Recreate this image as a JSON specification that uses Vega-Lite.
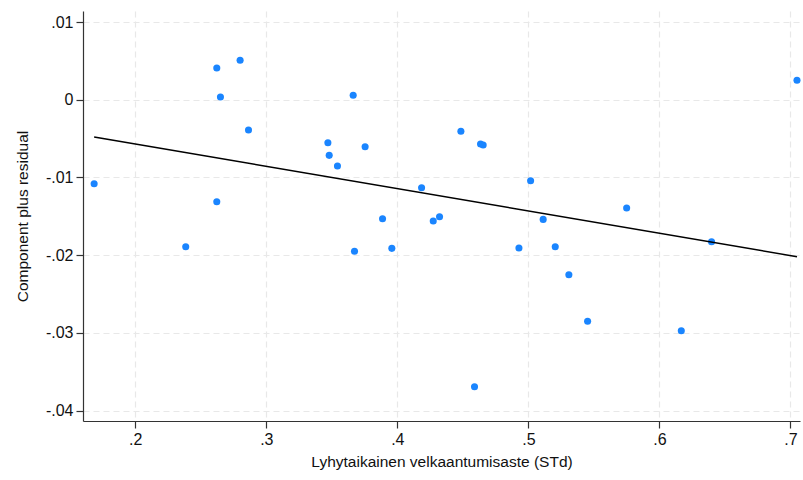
{
  "$schema": "https://vega.github.io/schema/vega-lite/v6.json",
  "width": 717,
  "height": 410,
  "autosize": {"type": "none"},
  "padding": {"left": 83, "top": 11, "right": 3, "bottom": 59},
  "background": "white",
  "config": {
    "view": {"stroke": null},
    "font": "Liberation Sans",
    "axis": {
      "labelFont": "Liberation Sans",
      "titleFont": "Liberation Sans",
      "labelFontSize": 16,
      "titleFontSize": 15.5,
      "titleFontWeight": "normal",
      "labelColor": "#111111",
      "titleColor": "#111111",
      "domainColor": "#333333",
      "tickColor": "#333333",
      "domainWidth": 1.2,
      "tickWidth": 1.2,
      "tickSize": 7,
      "labelPadding": 3,
      "gridColor": "#e8e8e8",
      "gridDash": [6, 4],
      "gridWidth": 1.2
    }
  },
  "layer": [
    {
      "data": {
        "values": [
          {"x": 0.1686, "y": -0.01081},
          {"x": 0.2622, "y": 0.00408},
          {"x": 0.2800, "y": 0.00507},
          {"x": 0.2650, "y": 0.00035},
          {"x": 0.2864, "y": -0.00390},
          {"x": 0.2622, "y": -0.01313},
          {"x": 0.3470, "y": -0.00553},
          {"x": 0.3480, "y": -0.00716},
          {"x": 0.3543, "y": -0.00853},
          {"x": 0.3663, "y": 0.00057},
          {"x": 0.3754, "y": -0.00605},
          {"x": 0.3887, "y": -0.01531},
          {"x": 0.4485, "y": -0.00405},
          {"x": 0.4635, "y": -0.00570},
          {"x": 0.4655, "y": -0.00583},
          {"x": 0.4185, "y": -0.01133},
          {"x": 0.4274, "y": -0.01561},
          {"x": 0.4322, "y": -0.01506},
          {"x": 0.5017, "y": -0.01042},
          {"x": 0.5113, "y": -0.01540},
          {"x": 0.5750, "y": -0.01394},
          {"x": 0.7050, "y": 0.00250},
          {"x": 0.6398, "y": -0.01827},
          {"x": 0.2385, "y": -0.01892},
          {"x": 0.3673, "y": -0.01951},
          {"x": 0.3958, "y": -0.01913},
          {"x": 0.4928, "y": -0.01909},
          {"x": 0.5205, "y": -0.01892},
          {"x": 0.5309, "y": -0.02252},
          {"x": 0.5452, "y": -0.02852},
          {"x": 0.6167, "y": -0.02973},
          {"x": 0.4589, "y": -0.03694}
        ]
      },
      "mark": {"type": "point", "filled": true, "opacity": 1, "size": 50, "color": "#1a85ff"},
      "encoding": {
        "x": {
          "field": "x", "type": "quantitative",
          "scale": {"domain": [0.1601, 0.7073], "nice": false, "zero": false},
          "axis": {
            "title": "Lyhytaikainen velkaantumisaste (STd)",
            "values": [0.2, 0.3, 0.4, 0.5, 0.6, 0.7],
            "labelExpr": "replace(format(datum.value, '.1~f'), '0.', '.')",
            "titlePadding": 7,
            "labelFlush": false
          }
        },
        "y": {
          "field": "y", "type": "quantitative",
          "scale": {"domain": [-0.04135, 0.01142], "nice": false, "zero": false},
          "axis": {
            "title": "Component plus residual",
            "values": [-0.04, -0.03, -0.02, -0.01, 0, 0.01],
            "labelExpr": "(datum.value < -0.000001 ? '-' : '') + replace(format(abs(datum.value), '.2~f'), '0.', '.')",
            "titlePadding": 15,
            "labelFlush": false
          }
        }
      }
    },
    {
      "data": {
        "values": [
          {"x": 0.1686, "y": -0.00480},
          {"x": 0.7050, "y": -0.02020}
        ]
      },
      "mark": {"type": "line", "color": "#000000", "strokeWidth": 1.5},
      "encoding": {
        "x": {"field": "x", "type": "quantitative"},
        "y": {"field": "y", "type": "quantitative"}
      }
    }
  ]
}
